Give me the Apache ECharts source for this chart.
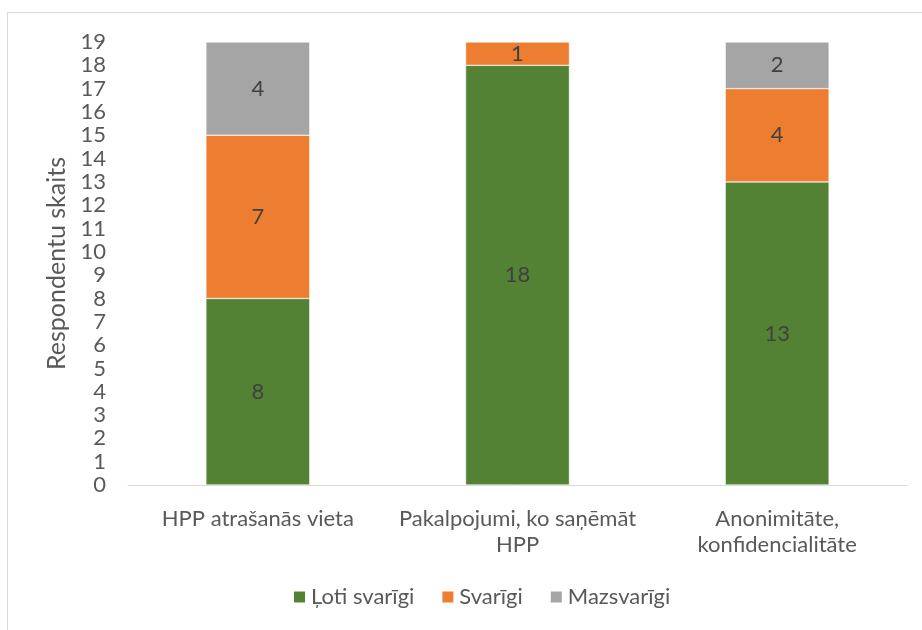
<!DOCTYPE html>
<html>
<head>
<meta charset="utf-8">
<script src="https://cdn.jsdelivr.net/npm/echarts@6/dist/echarts.min.js"></script>
<style>html,body{margin:0;padding:0;background:#fff}#c{width:922px;height:630px}</style>
</head>
<body>
<div id="c"></div>
<script>
const categories = ["HPP atrašanās vieta", "Pakalpojumi, ko saņēmāt\nHPP", "Anonimitāte,\nkonfidencialitāte"];
const seriesNames = ["Ļoti svarīgi", "Svarīgi", "Mazsvarīgi"];
const lotiSvarigi = [8, 18, 13];
const svarigi = [7, 1, 4];
const mazsvarigi = [4, 0, 2];
const yTicks = {min: 0, max: 19, interval: 1};
const colors = ["#548235", "#ED7D31", "#A5A5A5"];

const chart = echarts.init(document.getElementById('c'), null, {renderer: 'canvas'});
const font = "Lato, 'Open Sans', sans-serif";
const values = [lotiSvarigi, svarigi, mazsvarigi];
chart.setOption({
  animation: false,
  textStyle: {fontFamily: font},
  graphic: [{
    type: 'rect', shape: {x: 7.5, y: 12.5, width: 940, height: 640},
    style: {fill: 'none', stroke: '#d9d9d9', lineWidth: 1}, silent: true, z: -1
  }],
  grid: {left: 128, right: 15, top: 42, bottom: 145},
  legend: {
    bottom: 17, left: 287, itemWidth: 13, itemHeight: 13, itemGap: 26,
    icon: 'rect',
    textStyle: {fontSize: 22, color: '#595959', fontFamily: font},
    data: seriesNames
  },
  xAxis: {
    type: 'category', data: categories,
    axisLine: {lineStyle: {color: '#d9d9d9', width: 1}},
    axisTick: {show: false},
    axisLabel: {fontSize: 22, color: '#595959', margin: 21, lineHeight: 26, interval: 0, fontFamily: font}
  },
  yAxis: {
    type: 'value', min: yTicks.min, max: yTicks.max, interval: yTicks.interval,
    name: 'Respondentu skaits', nameLocation: 'middle', nameGap: 56,
    nameTextStyle: {fontSize: 25, color: '#595959', fontFamily: font},
    axisLine: {show: false}, axisTick: {show: false}, splitLine: {show: false},
    axisLabel: {fontSize: 22, color: '#595959', margin: 22, fontFamily: font}
  },
  series: seriesNames.map((n, i) => ({
    name: n, type: 'bar', stack: 'total', barWidth: '40%',
    data: values[i].map(v => v === 0 ? null : v),
    itemStyle: {color: colors[i], borderColor: '#ffffff', borderWidth: 0.5},
    label: {show: true, position: 'inside', fontSize: 22, color: '#404040', fontFamily: font}
  }))
});
</script>
</body>
</html>
